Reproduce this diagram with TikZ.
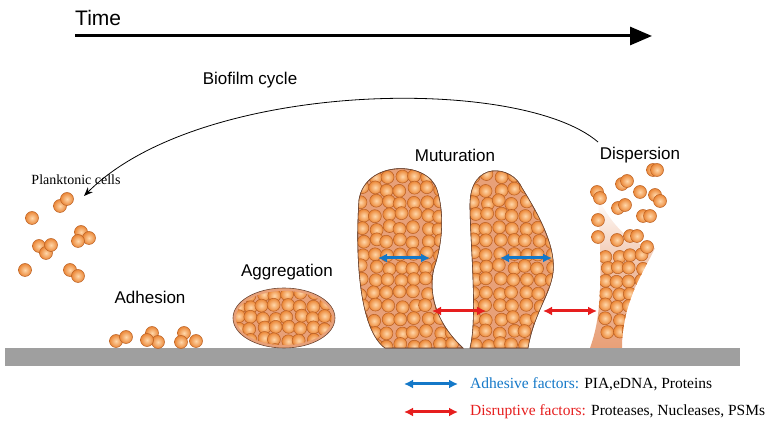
\documentclass[tikz,border=0pt]{standalone}
\usepackage{fontspec}
\setmainfont{Liberation Serif}
\newfontfamily\labelfont{Liberation Sans}
\usepackage{tikz}
\usetikzlibrary{arrows.meta}
\definecolor{cellor}{RGB}{235,135,55}
\definecolor{celllight}{RGB}{255,215,170}
\definecolor{celledge}{RGB}{185,95,35}
\definecolor{blobcol}{RGB}{232,160,120}
\definecolor{blobedge}{RGB}{110,70,50}
\definecolor{adhblue}{RGB}{20,120,200}
\definecolor{disred}{RGB}{230,30,30}
\newcommand{\bcell}[2]{\shade[inner color=celllight,outer color=cellor,draw=celledge,line width=0.5pt] (#1,#2) circle (6.5);}
\tikzset{
  stage/.style={font=\labelfont\fontsize{17}{20}\selectfont, inner sep=0pt},
  factor/.style={{Latex[length=9pt,width=9pt]}-{Latex[length=9pt,width=9pt]}, line width=3pt},
  blob/.style={fill=blobcol, draw=blobedge, line width=0.6pt}
}
\begin{document}
\begin{tikzpicture}[x=1pt,y=-1pt]
\useasboundingbox (0,0) rectangle (780,435);
\pgfmathsetseed{7}
% Time axis
\node[stage, anchor=west, font=\labelfont\fontsize{21}{24}\selectfont] (time) at (75,18) {Time};
\coordinate (t0) at (75,36);
\coordinate (t1) at (652,36);
\draw[line width=3pt, -{Triangle[length=22pt,width=18pt]}] (t0) -- (t1);
% Cycle arc
\node[stage] (cycle) at (250,80) {Biofilm cycle};
\coordinate (c0) at (598,142);
\coordinate (c1) at (84,196);
\draw[line width=0.8pt, -{Stealth[length=9pt,width=7pt]}] (c0) .. controls (520,75) and (200,80) .. (c1);
% Ground
\fill[gray!75] (5,348) rectangle (740,366);
% Planktonic cells
\node[inner sep=0pt, font=\fontsize{14}{16}\selectfont] (plank) at (76,180) {Planktonic cells};
\foreach \x/\y in {32/218,60/206,67/199,81/232,89/238,78/241,39/246,46/253,51/245,70/270,78/276,25/270}
  {\bcell{\x}{\y}}
% Adhesion
\node[stage] (adh) at (150,297) {Adhesion};
\foreach \x/\y in {116/341,126/337,152/333,158/342,147/340,184/333,181/342,196/341}
  {\bcell{\x}{\y}}
% Aggregation
\node[stage] (agg) at (287,272) {Aggregation};
\draw[blob] (284,318) ellipse (51 and 30);
\begin{scope}
  \clip (284,318) ellipse (48 and 27);
  \foreach \i in {0,...,8} {\foreach \j in {0,...,5}
    {\bcell{238+\i*12.5+rand*2}{294+\j*11.5+rand*2}}}
\end{scope}
% Maturation
\node[stage] (mat) at (455,155) {Muturation};
\def\blobA{(385,348) .. controls (360,330) and (355,260) .. (359,200) .. controls (365,160) and (428,160) .. (437,190) .. controls (445,215) and (442,245) .. (434,268) .. controls (428,292) and (435,322) .. (463,348) -- cycle}
\def\blobB{(470,348) .. controls (478,318) and (470,240) .. (470,205) .. controls (470,160) and (512,165) .. (522,188) .. controls (542,220) and (560,255) .. (551,282) .. controls (546,300) and (533,318) .. (528,348) -- cycle}
\draw[blob] \blobA;
\draw[blob] \blobB;
\begin{scope}
  \clip \blobA;
  \foreach \i in {0,...,7} {\foreach \j in {0,...,13}
    {\bcell{362+\i*13+rand*2}{176+\j*13+rand*2}}}
\end{scope}
\begin{scope}
  \clip \blobB;
  \foreach \i in {0,...,7} {\foreach \j in {0,...,13}
    {\bcell{474+\i*13+rand*2}{176+\j*13+rand*2}}}
\end{scope}
\draw[blobedge, line width=0.6pt] \blobA;
\draw[blobedge, line width=0.6pt] \blobB;
% Dispersion
\node[stage] (disp) at (640,155) {Dispersion};
\def\blobC{(590,348) .. controls (600,320) and (603,290) .. (598,198) .. controls (612,225) and (630,245) .. (655,248) .. controls (645,270) and (622,300) .. (622,348) -- cycle}
\shade[top color=white, bottom color=blobcol, middle color=blobcol!70] \blobC;
\begin{scope}
  \clip \blobC;
  \foreach \i in {0,...,3} {\foreach \j in {0,...,6}
    {\bcell{606+\i*12+rand*2}{256+\j*12.5+rand*2}}}
\end{scope}
\foreach \x/\y in {597/192,600/198,622/184,627/181,653/170,657/170,640/192,655/195,660/201,618/208,625/205,643/216,650/216,598/220,598/237,617/240,630/236,637/236,647/247}
  {\bcell{\x}{\y}}
% Factor arrows
\coordinate (a1) at (378,258); \coordinate (a2) at (430,258);
\coordinate (a3) at (500,258); \coordinate (a4) at (552,258);
\coordinate (r1) at (432,311); \coordinate (r2) at (486,311);
\coordinate (r3) at (543,311); \coordinate (r4) at (597,311);
\draw[factor, adhblue] (a1) -- (a2);
\draw[factor, adhblue] (a3) -- (a4);
\draw[factor, disred] (r1) -- (r2);
\draw[factor, disred] (r3) -- (r4);
% Legend
\coordinate (la1) at (404,384); \coordinate (la2) at (458,384);
\coordinate (lr1) at (404,412); \coordinate (lr2) at (458,412);
\draw[factor, adhblue] (la1) -- (la2);
\draw[factor, disred] (lr1) -- (lr2);
\node[anchor=west, inner sep=0pt, font=\fontsize{15.5}{18}\selectfont] (ladh) at (470,384) {\textcolor{adhblue}{Adhesive factors:} PIA,eDNA, Proteins};
\node[anchor=west, inner sep=0pt, font=\fontsize{15.5}{18}\selectfont] (ldis) at (470,412) {\textcolor{disred}{Disruptive factors:} Proteases, Nucleases, PSMs};
\end{tikzpicture}
\end{document}
